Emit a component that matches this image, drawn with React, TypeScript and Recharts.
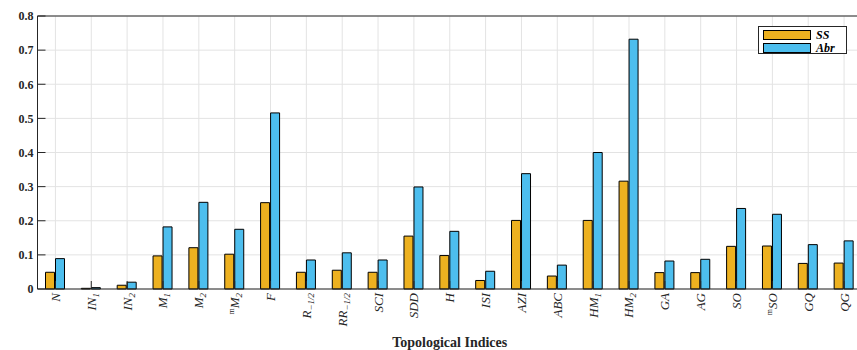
import React from "react";
import { BarChart, Bar, XAxis, YAxis, CartesianGrid } from "recharts";

const indices = [
  "N", "IN1", "IN2", "M1", "M2", "mM2", "F", "R", "RR", "SCI", "SDD", "H",
  "ISI", "AZI", "ABC", "HM1", "HM2", "GA", "AG", "SO", "mSO", "GQ", "QG",
];

const ssValues = [
  0.049, 0.002, 0.011, 0.097, 0.121, 0.102, 0.253, 0.049, 0.055, 0.049, 0.155, 0.098,
  0.025, 0.201, 0.038, 0.201, 0.316, 0.048, 0.048, 0.125, 0.126, 0.075, 0.076,
];

const abrValues = [
  0.089, 0.004, 0.02, 0.182, 0.254, 0.175, 0.516, 0.085, 0.106, 0.085, 0.299, 0.169,
  0.052, 0.338, 0.07, 0.4, 0.732, 0.082, 0.087, 0.236, 0.219, 0.13, 0.141,
];

// how each category name is typeset: optional left superscript, base, subscript
type TickLabel = { pre?: string; base: string; sub?: string };
const tickLabels: TickLabel[] = [
  { base: "N" },
  { base: "IN", sub: "1" },
  { base: "IN", sub: "2" },
  { base: "M", sub: "1" },
  { base: "M", sub: "2" },
  { pre: "m", base: "M", sub: "2" },
  { base: "F" },
  { base: "R", sub: "\u22121/2" },
  { base: "RR", sub: "\u22121/2" },
  { base: "SCI" },
  { base: "SDD" },
  { base: "H" },
  { base: "ISI" },
  { base: "AZI" },
  { base: "ABC" },
  { base: "HM", sub: "1" },
  { base: "HM", sub: "2" },
  { base: "GA" },
  { base: "AG" },
  { base: "SO" },
  { pre: "m", base: "SO" },
  { base: "GQ" },
  { base: "QG" },
];

const yTicks = [0, 0.1, 0.2, 0.3, 0.4, 0.5, 0.6, 0.7, 0.8];
const seriesNames = ["SS", "Abr"];
const seriesColors = ["#EDB120", "#4DBEEE"];

const data = indices.map((name, i) => ({ name, SS: ssValues[i], Abr: abrValues[i] }));

const AXIS = "#262626";
const SERIF = "'Liberation Serif', 'DejaVu Serif', serif";

const XTick = (props: any) => {
  const { x, y, payload } = props;
  const lab = tickLabels[payload.index];
  return (
    <g transform={`translate(${x + 4.5},${y}) rotate(-90)`}>
      <text textAnchor="end" fontFamily={SERIF} fontStyle="italic" fontSize={13} fill={AXIS}>
        {lab.pre && (
          <tspan fontSize={8} fontStyle="normal" dy={-5}>
            {lab.pre}
          </tspan>
        )}
        <tspan dy={lab.pre ? 5 : 0}>{lab.base}</tspan>
        {lab.sub && (
          <tspan fontSize={9} dy={3}>
            {lab.sub}
          </tspan>
        )}
      </text>
    </g>
  );
};

const LegendBox = () => (
  <div
    style={{
      position: "absolute",
      left: 758,
      top: 26,
      border: `1px solid ${AXIS}`,
      background: "#fff",
      width: 89,
      height: 28,
      padding: "2px 0 0 4px",
      boxSizing: "border-box",
    }}
  >
    {seriesNames.map((n, i) => (
      <div key={n} style={{ display: "flex", alignItems: "center", height: 12, marginBottom: 1 }}>
        <div
          style={{
            width: 48,
            height: 10,
            background: seriesColors[i],
            border: "1px solid #000",
            boxSizing: "border-box",
          }}
        />
        <span
          style={{
            marginLeft: 5,
            fontFamily: SERIF,
            fontStyle: "italic",
            fontWeight: "bold",
            fontSize: 12,
            color: "#000",
            lineHeight: "12px",
          }}
        >
          {n}
        </span>
      </div>
    ))}
  </div>
);

export default function App() {
  return (
    <div style={{ position: "absolute", left: 0, top: 0, width: 857, height: 350, overflow: "hidden", background: "#fff" }}>
      <BarChart
        width={863}
        height={350}
        data={data}
        margin={{ top: 15, right: 0, bottom: 0, left: 0 }}
        barSize={9}
        barGap={1}
      >
        <CartesianGrid stroke="#e3e3e3" />
        <XAxis
          dataKey="name"
          interval={0}
          height={61}
          stroke={AXIS}
          tickSize={-8}
          tickMargin={12}
          tick={<XTick />}
          label={{
            value: "Topological Indices",
            position: "insideBottom",
            offset: 3,
            style: { fontFamily: SERIF, fontWeight: "bold", fontSize: 14, fill: AXIS },
          }}
        />
        <XAxis
          xAxisId="top"
          dataKey="name"
          orientation="top"
          interval={0}
          height={1}
          stroke={AXIS}
          tickSize={-8}
          tick={false}
        />
        <YAxis
          width={37.5}
          domain={[0, 0.8]}
          ticks={yTicks}
          interval={0}
          stroke={AXIS}
          tickSize={-8}
          tickMargin={12}
          tickFormatter={(v: number) => (v === 0 ? "0" : v.toFixed(1))}
          tick={{ fontFamily: SERIF, fontWeight: "bold", fontSize: 12, fill: AXIS }}
        />
        <YAxis
          yAxisId="right"
          orientation="right"
          width={1}
          domain={[0, 0.8]}
          ticks={yTicks}
          stroke={AXIS}
          tickSize={-8}
          tick={false}
        />
        {seriesNames.map((n, i) => (
          <Bar
            key={n}
            dataKey={n}
            fill={seriesColors[i]}
            stroke="#000"
            strokeWidth={1}
            isAnimationActive={false}
          />
        ))}
      </BarChart>
      <LegendBox />
    </div>
  );
}
